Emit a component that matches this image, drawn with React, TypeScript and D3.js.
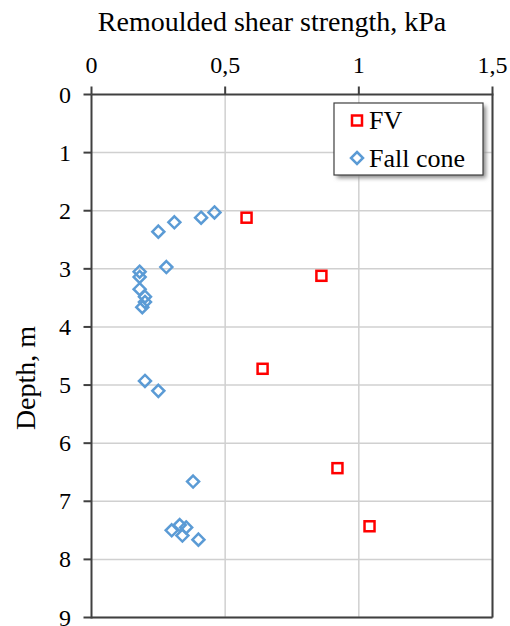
import React from "react";
import * as d3 from "d3";

const fvStrength = [0.58, 0.86, 0.64, 0.92, 1.04];
const fvDepth = [2.12, 3.12, 4.72, 6.43, 7.43];

const coneStrength = [0.46, 0.41, 0.31, 0.25, 0.28, 0.18, 0.18, 0.18, 0.20, 0.20, 0.19, 0.20, 0.25, 0.38, 0.30, 0.33, 0.354, 0.34, 0.40];
const coneDepth = [2.03, 2.12, 2.20, 2.36, 2.97, 3.05, 3.14, 3.35, 3.48, 3.57, 3.66, 4.93, 5.10, 6.66, 7.50, 7.41, 7.45, 7.59, 7.66];

const xTicks = [0, 0.5, 1, 1.5];
const yTicks = [0, 1, 2, 3, 4, 5, 6, 7, 8, 9];
const xTickLabels = ["0", "0,5", "1", "1,5"];
const seriesNames = ["FV", "Fall cone"];

const W = 510;
const H = 626;
const left = 91.5;
const right = 492.5;
const top = 94.5;
const bottom = 617.5;

const FONT = "'Liberation Serif', 'Times New Roman', serif";

export default function App() {
  const x = d3.scaleLinear().domain([0, 1.5]).range([left, right]);
  const y = d3.scaleLinear().domain([0, 9]).range([top, bottom]);

  const sq = 10;
  const dm = 6;
  const diamond = (cx: number, cy: number) =>
    `M${cx},${cy - dm}L${cx + dm},${cy}L${cx},${cy + dm}L${cx - dm},${cy}Z`;

  return (
    <svg
      width={W}
      height={H}
      style={{ position: "fixed", left: 0, top: 0, background: "#fff" }}
      fontFamily={FONT}
    >
      <defs>
        <filter id="sh" x="-20%" y="-20%" width="140%" height="140%">
          <feGaussianBlur stdDeviation="2" />
        </filter>
      </defs>
      <rect x={0} y={0} width={W} height={H} fill="#fff" />
      {/* gridlines */}
      {xTicks.slice(1).map((t) => (
        <line key={"gx" + t} x1={x(t)} x2={x(t)} y1={top} y2={bottom} stroke="#d0d0d0" strokeWidth={1.5} />
      ))}
      {yTicks.slice(1).map((t) => (
        <line key={"gy" + t} x1={left} x2={right} y1={y(t)} y2={y(t)} stroke="#d0d0d0" strokeWidth={1.5} />
      ))}
      {/* frame */}
      <line x1={right} x2={right} y1={top} y2={bottom} stroke="#404040" strokeWidth={2} />
      <line x1={left} x2={right} y1={bottom} y2={bottom} stroke="#404040" strokeWidth={2} />
      {/* axes */}
      <line x1={left} x2={right + 1} y1={top} y2={top} stroke="#404040" strokeWidth={2} />
      <line x1={left} x2={left} y1={top} y2={bottom + 1} stroke="#404040" strokeWidth={2} />
      {xTicks.map((t) => (
        <line key={"tx" + t} x1={x(t)} x2={x(t)} y1={top - 8} y2={top} stroke="#404040" strokeWidth={2} />
      ))}
      {yTicks.map((t) => (
        <line key={"ty" + t} x1={left - 8} x2={left} y1={y(t)} y2={y(t)} stroke="#404040" strokeWidth={2} />
      ))}
      {/* tick labels */}
      {xTicks.map((t, i) => (
        <text key={"lx" + t} x={x(t)} y={73} textAnchor="middle" fontSize={24} fill="#000">
          {xTickLabels[i]}
        </text>
      ))}
      {yTicks.map((t) => (
        <text key={"ly" + t} x={71} y={y(t) + 8} textAnchor="end" fontSize={24} fill="#000">
          {t}
        </text>
      ))}
      {/* axis titles */}
      <text x={272} y={31} textAnchor="middle" fontSize={28} fill="#000">
        Remoulded shear strength, kPa
      </text>
      <text
        transform={`translate(35,378) rotate(-90)`}
        textAnchor="middle"
        fontSize={28}
        fill="#000"
      >
        Depth, m
      </text>
      {/* fall cone */}
      {coneStrength.map((v, i) => (
        <path
          key={"c" + i}
          d={diamond(x(v), y(coneDepth[i]))}
          fill="none"
          stroke="#5b9bd5"
          strokeWidth={2.5}
        />
      ))}
      {/* FV */}
      {fvStrength.map((v, i) => (
        <rect
          key={"f" + i}
          x={x(v) - sq / 2}
          y={y(fvDepth[i]) - sq / 2}
          width={sq}
          height={sq}
          fill="none"
          stroke="#ff0000"
          strokeWidth={2.5}
        />
      ))}
      {/* legend */}
      <rect x={337} y={106} width={149} height={72} fill="#888" filter="url(#sh)" />
      <rect x={334} y={103} width={149} height={72} fill="#fff" stroke="#404040" strokeWidth={1.2} />
      <rect x={357 - sq / 2} y={120.5 - sq / 2} width={sq} height={sq} fill="none" stroke="#ff0000" strokeWidth={2.5} />
      <path d={diamond(357, 158)} fill="none" stroke="#5b9bd5" strokeWidth={2.5} />
      <text x={369} y={129} fontSize={26} fill="#000">{seriesNames[0]}</text>
      <text x={369} y={167} fontSize={26} fill="#000">{seriesNames[1]}</text>
    </svg>
  );
}
